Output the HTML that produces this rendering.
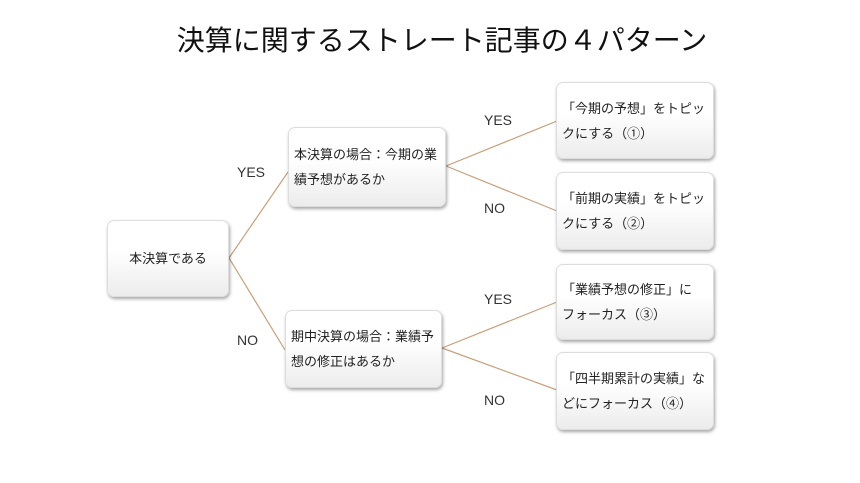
<!DOCTYPE html>
<html><head><meta charset="utf-8"><style>
body{margin:0;width:860px;height:483px;background:#fff;position:relative;overflow:hidden;font-family:"Liberation Sans","Noto Sans CJK JP",sans-serif;color:#222}
.t{position:absolute;left:12px;width:860px;top:19px;text-align:center;font-size:28px;color:#111;white-space:nowrap}
.b{position:absolute;box-sizing:border-box;border-radius:7px;background:linear-gradient(#fff 40%,#ececec);box-shadow:1px 2px 3px rgba(0,0,0,.35);border:1px solid #ddd;font-size:13px;line-height:25px;padding:0 5px;display:flex;align-items:center;white-space:nowrap}
.l{position:absolute;font-size:14px;color:#333}
</style></head><body>
<div class="t">決算に関するストレート記事の４パターン</div>
<svg width="860" height="483" style="position:absolute;left:0;top:0">
<g stroke="#c9a07a" stroke-width="1.2" fill="none">
<path d="M229 258L288 172M229 258L285 350M446 166L557 121M446 166L557 211M442 348L557 302M442 348L557 390"/>
</g></svg>
<div class="b" style="left:107px;top:220px;width:122px;height:77px;justify-content:center">本決算である</div>
<div class="b" style="left:288px;top:127px;width:158px;height:80px"><div>本決算の場合：今期の業<br>績予想があるか</div></div>
<div class="b" style="left:285px;top:310px;width:157px;height:78px"><div>期中決算の場合：業績予<br>想の修正はあるか</div></div>
<div class="b" style="left:556px;top:82px;width:158px;height:77px"><div>「今期の予想」をトピッ<br>クにする（①）</div></div>
<div class="b" style="left:556px;top:172px;width:158px;height:78px"><div>「前期の実績」をトピッ<br>クにする（②）</div></div>
<div class="b" style="left:556px;top:264px;width:158px;height:76px"><div>「業績予想の修正」に<br>フォーカス（③）</div></div>
<div class="b" style="left:556px;top:352px;width:158px;height:78px"><div>「四半期累計の実績」な<br>どにフォーカス（④）</div></div>
<div class="l" style="left:237px;top:164px">YES</div>
<div class="l" style="left:237px;top:332px">NO</div>
<div class="l" style="left:484px;top:112px">YES</div>
<div class="l" style="left:484px;top:200px">NO</div>
<div class="l" style="left:484px;top:291px">YES</div>
<div class="l" style="left:484px;top:392px">NO</div>
</body></html>
